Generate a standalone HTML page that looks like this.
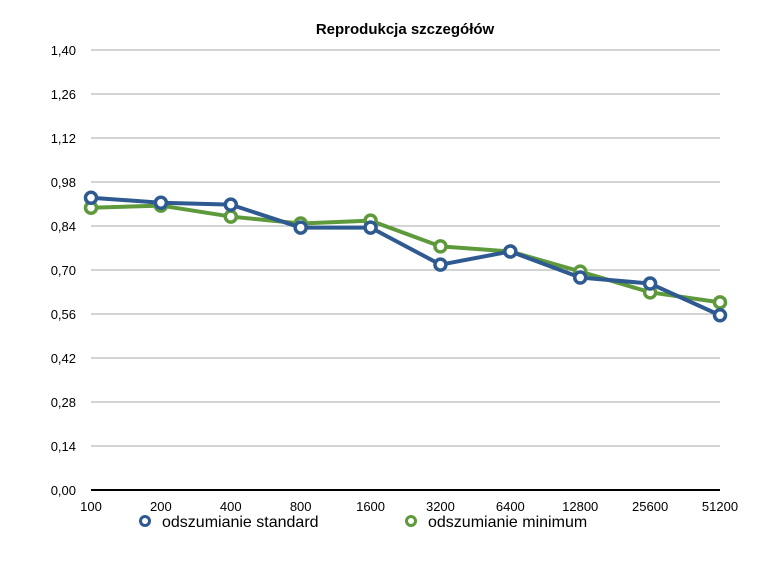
<!DOCTYPE html>
<html><head><meta charset="utf-8"><style>
body{margin:0;background:#fff;font-family:"Liberation Sans",sans-serif}
svg text{font-family:"Liberation Sans",sans-serif}
</style></head><body>
<svg id="c" width="780" height="557"></svg>
<script>
const categories=["100","200","400","800","1600","3200","6400","12800","25600","51200"];
const seriesStandard=[0.930,0.914,0.908,0.835,0.835,0.717,0.759,0.676,0.657,0.556];
const seriesMinimum=[0.898,0.905,0.870,0.848,0.857,0.775,0.759,0.695,0.629,0.597];
const yTicks=[0,0.14,0.28,0.42,0.56,0.70,0.84,0.98,1.12,1.26,1.40];
const NS="http://www.w3.org/2000/svg";
const svg=document.getElementById('c');
const x0=91,x1=720,y0=490,y1=50;
const xs=i=>x0+i*(x1-x0)/(categories.length-1);
const ys=v=>y0-(v/1.4)*(y0-y1);
function mk(t,a,p){const e=document.createElementNS(NS,t);for(const k in a)e.setAttribute(k,a[k]);(p||svg).appendChild(e);return e;}
let t=mk('text',{x:405,y:34,'text-anchor':'middle','font-size':15,'font-weight':'bold',fill:'#000'});t.textContent='Reprodukcja szczegółów';


yTicks.forEach(v=>{
 const l=mk('line',{x1:x0,x2:x1,y1:ys(v),y2:ys(v),stroke:v===0?'#000':'#aaa','stroke-width':v===0?2:1});
 
 
 const tx=mk('text',{x:76,y:ys(v)+5,'text-anchor':'end','font-size':13,fill:'#000'});
 tx.textContent=v.toFixed(2).replace('.',',');
 
 
});
categories.forEach((c,i)=>{
 const tx=mk('text',{x:xs(i),y:511,'text-anchor':'middle','font-size':13,fill:'#000'});
 tx.textContent=c;
 
 
});
function series(data,col,name){
 const g=mk('g',{});
 
 
 mk('polyline',{points:data.map((v,i)=>xs(i)+','+ys(v)).join(' '),fill:'none',stroke:col,'stroke-width':4,'stroke-linejoin':'round'},g);
 data.forEach((v,i)=>{
  const c=mk('circle',{cx:xs(i),cy:ys(v),r:5.5,fill:'#fff',stroke:col,'stroke-width':3.5},g);
  
  
 });
}
series(seriesMinimum,'#5e9a3c','series-minimum');
series(seriesStandard,'#2f5a91','series-standard');
[[145,'#2f5a91','odszumianie standard'],[411,'#5e9a3c','odszumianie minimum']].forEach(([x,col,lab])=>{
 const g=mk('g',{});
 
 
 mk('circle',{cx:x,cy:521,r:4.5,fill:'#fff',stroke:col,'stroke-width':3},g);
 const tx=mk('text',{x:x+17,y:527,'font-size':16,fill:'#000'},g);tx.textContent=lab;
});
</script>
</body></html>
